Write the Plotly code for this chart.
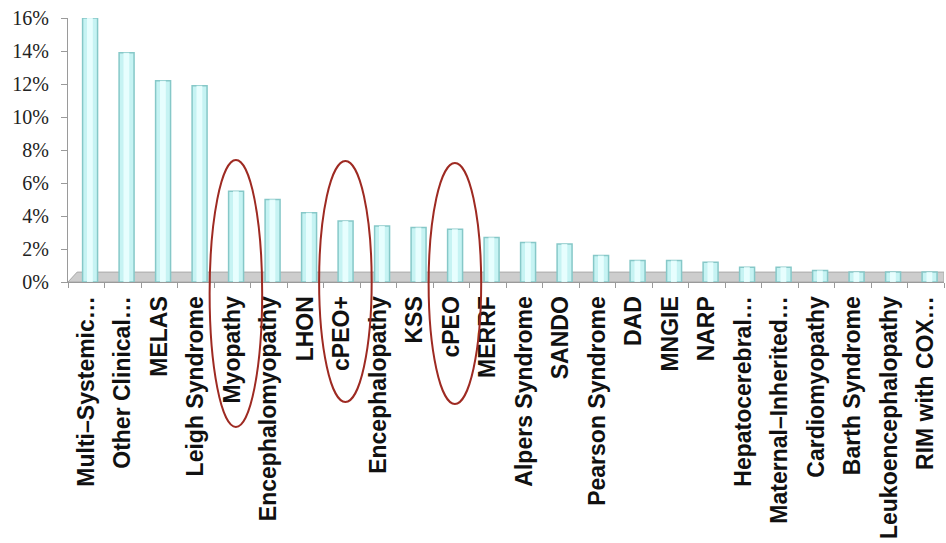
import plotly.graph_objects as go

categories = [
    "Multi–Systemic…", "Other Clinical…", "MELAS", "Leigh Syndrome", "Myopathy",
    "Encephalomyopathy", "LHON", "cPEO+", "Encephalopathy", "KSS", "cPEO", "MERRF",
    "Alpers Syndrome", "SANDO", "Pearson Syndrome", "DAD", "MNGIE", "NARP",
    "Hepatocerebral…", "Maternal–Inherited…", "Cardiomyopathy", "Barth Syndrome",
    "Leukoencephalopathy", "RIM with COX…",
]
share_pct = [
    16.0, 13.9, 12.2, 11.9, 5.5, 5.0, 4.2, 3.7, 3.4, 3.3, 3.2, 2.7,
    2.4, 2.3, 1.6, 1.3, 1.3, 1.2, 0.9, 0.9, 0.7, 0.6, 0.6, 0.6,
]
y_ticks = [0, 2, 4, 6, 8, 10, 12, 14, 16]
highlighted = ["Myopathy", "cPEO+", "cPEO"]

n = len(categories)
fig = go.Figure()

# cylinder body
fig.add_trace(go.Bar(
    x=categories, y=share_pct, width=0.41, offset=-0.1,
    marker=dict(color="#c6f3f3", line=dict(color="#86c8c8", width=1.5)),
    hoverinfo="x+y",
))
# soft highlight stripe down each cylinder
fig.add_trace(go.Bar(
    x=categories, y=share_pct, width=0.16, offset=0.02,
    marker=dict(color="rgba(236,255,255,0.85)", line=dict(width=0)),
    hoverinfo="skip",
))

# grey floor under the bars
fig.add_shape(
    type="path", layer="below", xref="x", yref="y",
    path=f"M -0.5,0 L {n - 0.5},0 L {n - 0.5},0.6 L -0.25,0.6 Z",
    fillcolor="#cdcdcd", line=dict(color="#a9a9a9", width=1),
)

# red rings around highlighted categories (paper coords derived from category index)
top_px = {"Myopathy": 160, "cPEO+": 161, "cPEO": 163}
bot_px = {"Myopathy": 427, "cPEO+": 402, "cPEO": 404}
plot_top, plot_bottom = 18, 282
for name in highlighted:
    i = categories.index(name)
    cx = (i + 0.5 + 0.1) / n
    half = 0.72 / n
    y0 = (plot_bottom - bot_px[name]) / (plot_bottom - plot_top)
    y1 = (plot_bottom - top_px[name]) / (plot_bottom - plot_top)
    fig.add_shape(
        type="circle", xref="paper", yref="paper",
        x0=cx - half, x1=cx + half, y0=y0, y1=y1,
        line=dict(color="#9e2a22", width=2), fillcolor="rgba(0,0,0,0)",
    )

fig.update_layout(
    width=946, height=543,
    margin=dict(l=68, r=2, t=18, b=261),
    paper_bgcolor="white", plot_bgcolor="white",
    showlegend=False, barmode="overlay",
    xaxis=dict(
        type="category", range=[-0.5, n - 0.5],
        tickangle=-90, ticks="outside", tickson="boundaries", ticklen=5,
        tickcolor="#9a9a9a", showline=True, linecolor="#9a9a9a", linewidth=1,
        showgrid=False, ticklabelstandoff=4,
        tickfont=dict(family="Liberation Sans, Arial", size=23, color="#111111", weight="bold"),
    ),
    yaxis=dict(
        range=[0, 16], tickvals=y_ticks, ticktext=[f"{v}%" for v in y_ticks],
        ticks="outside", ticklen=6, tickcolor="#9a9a9a",
        showline=True, linecolor="#9a9a9a", linewidth=1,
        showgrid=False, zeroline=False, ticklabelstandoff=8,
        tickfont=dict(family="Liberation Serif, Times New Roman", size=20, color="#222222"),
    ),
)

fig.write_html("out.html")
